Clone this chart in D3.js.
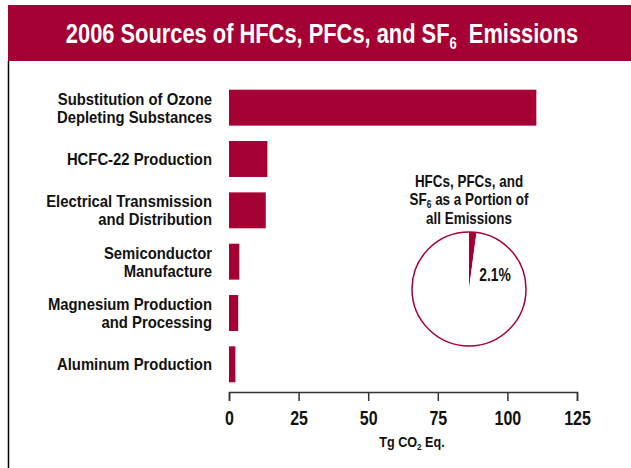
<!DOCTYPE html>
<html>
<head>
<meta charset="utf-8">
<script src="https://cdn.jsdelivr.net/npm/d3@7"></script>
<style>
  body { margin: 0; background: #fff; }
  svg text { font-family: "Liberation Sans", Arial, Helvetica, sans-serif; font-weight: bold; }
</style>
</head>
<body>
<div id="chart"></div>
<script>
// data (Tg CO2 Eq.)
var sources = [
  ["Substitution of Ozone", "Depleting Substances"],
  ["HCFC-22 Production"],
  ["Electrical Transmission", "and Distribution"],
  ["Semiconductor", "Manufacture"],
  ["Magnesium Production", "and Processing"],
  ["Aluminum Production"]
];
var emissions = [110.4, 13.8, 13.2, 3.7, 3.3, 2.3];
var tickValues = [0, 25, 50, 75, 100, 125];
var shareLabels = ["HFCs, PFCs, and", "all Emissions"];
var shareValues = [2.1, 97.9];

var red = "#a50034";
var W = 631, H = 468;

// no condensed bold font installed, so squeeze Liberation Sans sideways
function squeeze(x, y, k) {
  return "translate(" + x + "," + y + ") scale(" + k + ",1)";
}

var data = sources.map(function (s, i) { return {lines: s, key: s.join(" "), value: emissions[i]}; });

var svg = d3.select("#chart").append("svg")
  .attr("width", W).attr("height", H);

// title banner
svg.append("rect")
  .attr("x", 8).attr("y", 5)
  .attr("width", W - 8).attr("height", 56)
  .attr("fill", red);

var title = svg.append("text")
  .attr("transform", squeeze(322, 43, 0.81))
  .attr("text-anchor", "middle")
  .attr("fill", "#fff")
  .style("font-size", "27px");
title.append("tspan").text("2006 Sources of HFCs, PFCs, and SF");
title.append("tspan").attr("dy", 6).style("font-size", "16px").text("6");
title.append("tspan").attr("dy", -6).text("\u00a0 Emissions");

// left frame line
svg.append("line")
  .attr("x1", 8.5).attr("x2", 8.5)
  .attr("y1", 61).attr("y2", H)
  .attr("stroke", "#000").attr("stroke-width", 1.5);

// scales
var x = d3.scaleLinear().domain([0, 125]).range([229, 577]);
var y = d3.scaleBand()
  .domain(data.map(function (d) { return d.key; }))
  .range([82, 390])
  .paddingInner(0.3).paddingOuter(0.15);

// bars
svg.selectAll(".bar").data(data).enter()
  .append("rect")
  .attr("class", "bar")
  .attr("x", x(0))
  .attr("y", function (d) { return y(d.key); })
  .attr("width", function (d) { return x(d.value) - x(0); })
  .attr("height", y.bandwidth())
  .attr("fill", red);

// category labels (one or two lines)
var labels = svg.selectAll(".label").data(data).enter()
  .append("text")
  .attr("class", "label")
  .attr("text-anchor", "end")
  .attr("fill", "#111")
  .style("font-size", "16.5px")
  .attr("transform", function (d) {
    var cy = y(d.key) + y.bandwidth() / 2;
    var top = cy - (d.lines.length - 1) * 18 / 2;
    return squeeze(212, top, 0.9);
  });

labels.selectAll("tspan").data(function (d) { return d.lines; }).enter()
  .append("tspan")
  .attr("x", 0)
  .attr("y", function (d, i) { return i * 18; })
  .attr("dy", "0.36em")
  .text(function (d) { return d; });

// x axis
var xAxis = d3.axisBottom(x).tickValues(tickValues).tickSize(9).tickPadding(10);

var gx = svg.append("g")
  .attr("transform", "translate(0,392)")
  .call(xAxis);

gx.select(".domain").attr("stroke", "#333").attr("stroke-width", 1.5);
gx.selectAll(".tick line").attr("stroke", "#333").attr("stroke-width", 1.5);
gx.selectAll(".tick text")
  .attr("fill", "#111")
  .attr("transform", "scale(0.8,1)")
  .style("font-size", "20px")
  .style("font-family", "\"Liberation Sans\", Arial, sans-serif")
  .style("font-weight", "bold");

var axisTitle = svg.append("text")
  .attr("transform", squeeze(412, 447, 0.9))
  .attr("text-anchor", "middle")
  .attr("fill", "#111")
  .style("font-size", "14px");
axisTitle.append("tspan").text("Tg CO");
axisTitle.append("tspan").attr("dy", 3).style("font-size", "9px").text("2");
axisTitle.append("tspan").attr("dy", -3).text(" Eq.");

// pie inset
var cx = 469, cy = 289, r = 57;

svg.append("text")
  .attr("transform", squeeze(cx, 187, 0.84))
  .attr("text-anchor", "middle")
  .attr("fill", "#111")
  .style("font-size", "16px")
  .text(shareLabels[0]);

var mid = svg.append("text")
  .attr("transform", squeeze(cx, 205, 0.84))
  .attr("text-anchor", "middle")
  .attr("fill", "#111")
  .style("font-size", "16px");
mid.append("tspan").text("SF");
mid.append("tspan").attr("dy", 3).style("font-size", "10px").text("6");
mid.append("tspan").attr("dy", -3).text(" as a Portion of");

svg.append("text")
  .attr("transform", squeeze(cx, 224, 0.84))
  .attr("text-anchor", "middle")
  .attr("fill", "#111")
  .style("font-size", "16px")
  .text(shareLabels[1]);

var pie = d3.pie().sort(null);
var arc = d3.arc().innerRadius(0).outerRadius(r);

var gp = svg.append("g").attr("transform", "translate(" + cx + "," + cy + ")");

gp.selectAll("path").data(pie(shareValues)).enter()
  .append("path")
  .attr("d", arc)
  .attr("fill", function (d, i) { return i === 0 ? red : "#fff"; });

gp.append("circle")
  .attr("r", r)
  .attr("fill", "none")
  .attr("stroke", red)
  .attr("stroke-width", 1.5);

gp.append("text")
  .attr("transform", squeeze(26, -14, 0.77))
  .attr("dy", "0.36em")
  .attr("text-anchor", "middle")
  .attr("fill", "#111")
  .style("font-size", "18px")
  .text(shareValues[0] + "%");
</script>
</body>
</html>
